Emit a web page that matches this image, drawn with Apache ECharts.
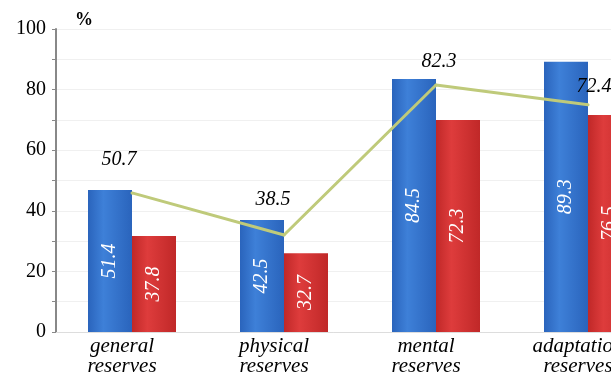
<!DOCTYPE html>
<html><head><meta charset="utf-8">
<script src="https://cdn.jsdelivr.net/npm/echarts@6/dist/echarts.min.js"></script>
<style>html,body{margin:0;padding:0;background:#fff}#c{width:611px;height:374px}</style>
</head><body><div id="c"></div>
<script>
var categories = ['general\nreserves', 'physical\nreserves', 'mental\nreserves', 'adaptation\nreserves'];
// bar heights as drawn against the axis
var blueHeights = [46.9, 37.0, 83.5, 89.2];
var redHeights = [31.7, 26.0, 70.0, 71.6];
var lineHeights = [45.9, 32.0, 81.5, 75.0];
// values printed on the chart
var blueLabels = ['51.4', '42.5', '84.5', '89.3'];
var redLabels = ['37.8', '32.7', '72.3', '76.5'];
var lineLabels = ['50.7', '38.5', '82.3', '72.4'];
var yTicks = [0, 20, 40, 60, 80, 100];
// label placement (style, not data)
var lineLabelOffsets = [[-13, -22], [-11, -24], [3, -12], [6, -7]];

var serif = "'Liberation Serif', 'DejaVu Serif', serif";
var chart = echarts.init(document.getElementById('c'), null, {renderer: 'canvas'});
function grad(a, b) {
  return new echarts.graphic.LinearGradient(0, 0, 1, 0, [
    {offset: 0, color: a}, {offset: 0.35, color: b}, {offset: 1, color: a}]);
}
var lineData = lineHeights.map(function (v, i) {
  return {value: v, label: {offset: lineLabelOffsets[i]}};
});
chart.setOption({
  animation: false,
  title: {text: '%', left: 70, top: 6, textStyle: {fontFamily: serif, fontWeight: 'bold', fontSize: 18, color: '#000'}},
  grid: {left: 56, top: 29, bottom: 42, width: 608, containLabel: false, outerBoundsMode: 'none'},
  xAxis: {
    type: 'category', data: categories,
    axisLine: {show: true, lineStyle: {color: '#ddd', width: 1}},
    axisTick: {show: false},
    axisLabel: {fontFamily: serif, fontStyle: 'italic', fontSize: 21, color: '#000', lineHeight: 20, margin: 4, padding: [0, 20, 0, 0], interval: 0}
  },
  yAxis: {
    type: 'value', min: 0, max: 100, interval: 10,
    axisLine: {show: true, lineStyle: {color: '#888', width: 2}},
    axisTick: {show: true, length: 4, inside: false, lineStyle: {color: '#888'}},
    splitLine: {show: true, lineStyle: {color: '#f0f0f0', width: 1}},
    axisLabel: {fontFamily: serif, fontSize: 20, color: '#000', margin: 10,
      formatter: function (v) { return yTicks.indexOf(v) >= 0 ? String(v) : ''; }}
  },
  series: [
    {type: 'bar', data: blueHeights, barWidth: 44, barGap: '0%',
      itemStyle: {color: grad('#2a64bc', '#3e80d8')},
      label: {show: true, position: 'inside', rotate: 90, color: '#fff', fontFamily: serif, fontStyle: 'italic', fontSize: 20,
        formatter: function (p) { return blueLabels[p.dataIndex]; }}},
    {type: 'bar', data: redHeights, barWidth: 44,
      itemStyle: {color: grad('#c02828', '#de3c3c')},
      label: {show: true, position: 'inside', rotate: 90, color: '#fff', fontFamily: serif, fontStyle: 'italic', fontSize: 20,
        formatter: function (p) { return redLabels[p.dataIndex]; }}},
    {type: 'line', data: lineData, symbol: 'circle', symbolSize: 3, z: 5,
      lineStyle: {color: '#bfca7a', width: 3}, itemStyle: {color: '#bfca7a'},
      label: {show: true, position: 'top', distance: 0, color: '#000', fontFamily: serif, fontStyle: 'italic', fontSize: 20,
        formatter: function (p) { return lineLabels[p.dataIndex]; }}}
  ]
});
</script></body></html>
